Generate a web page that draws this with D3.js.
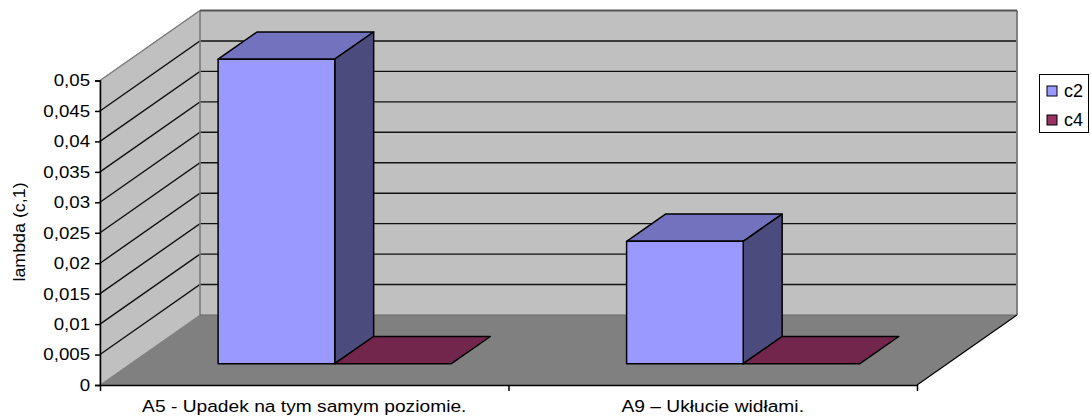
<!DOCTYPE html>
<html>
<head>
<meta charset="utf-8">
<script src="https://cdnjs.cloudflare.com/ajax/libs/d3/7.8.5/d3.min.js"></script>
<style>
html, body { margin: 0; padding: 0; background: #fff; }
svg { display: block; font-family: "Liberation Sans", Arial, sans-serif; }
</style>
</head>
<body>
<svg id="chart" width="1091" height="416"></svg>
<script>
const categories = ["A5 - Upadek na tym samym poziomie.", "A9 – Ukłucie widłami."];
const seriesNames = ["c2", "c4"];
const c2Values = [0.05, 0.0201];
const c4Values = [0, 0];
const seriesValues = [c2Values, c4Values];
const seriesColours = ["#9999ff", "#993366"];
const tickValues = [0, 0.005, 0.01, 0.015, 0.02, 0.025, 0.03, 0.035, 0.04, 0.045, 0.05];

const svg = d3.select("#chart");

const x0 = d3.scaleBand().domain(categories).range([100, 917]);
const x1 = d3.scaleBand().domain(seriesNames).range([87.7, 321]);
const y = d3.scaleLinear().domain([0, 0.05]).range([385, 80.5]);
const depthX = d3.scaleLinear().domain([0, 1]).range([0, 100]);
const depthY = d3.scaleLinear().domain([0, 1]).range([0, -70]);

// front plane point pushed back along the depth axis
function project(px, py, z) {
    return [px + depthX(z), py + depthY(z)];
}

const polyLine = d3.line();

function poly(points) {
    return polyLine(points) + "Z";
}

const xL = x0.range()[0], xR = x0.range()[1];
const yB = y(0), yT = y(0.05);

// walls and floor
svg.append("path")
    .attr("d", poly([project(xL, yB, 1), project(xR, yB, 1), project(xR, yT, 1), project(xL, yT, 1)]))
    .attr("fill", "#c0c0c0");
svg.append("path")
    .attr("d", poly([[xL, yB], [xL, yT], project(xL, yT, 1), project(xL, yB, 1)]))
    .attr("fill", "#c0c0c0")
    .attr("stroke", "#808080");
svg.append("path")
    .attr("d", poly([[xL, yB], [xR, yB], project(xR, yB, 1), project(xL, yB, 1)]))
    .attr("fill", "#808080");

// gridlines on side and back wall
const gridTicks = tickValues.slice(1);
svg.append("g")
    .selectAll("path")
    .data(gridTicks.slice(0, -1))
    .join("path")
    .attr("d", d => polyLine([[xL, y(d)], project(xL, y(d), 1), project(xR, y(d), 1)]))
    .attr("fill", "none")
    .attr("stroke", "#111")
    .attr("stroke-width", 1.4);

// wall outlines
svg.append("path")
    .attr("d", polyLine([project(xL, yB, 1), project(xL, yT, 1)]))
    .attr("fill", "none")
    .attr("stroke", "#808080")
    .attr("stroke-width", 1.5);
svg.append("path")
    .attr("d", polyLine([project(xR, yT, 1), project(xR, yB, 1)]))
    .attr("fill", "none")
    .attr("stroke", "#808080")
    .attr("stroke-width", 2);
svg.append("path")
    .attr("d", polyLine([project(xL, yT, 1), project(xR, yT, 1)]))
    .attr("fill", "none")
    .attr("stroke", "#555")
    .attr("stroke-width", 2);
svg.append("path")
    .attr("d", polyLine([[xL, yT], project(xL, yT, 1)]))
    .attr("fill", "none")
    .attr("stroke", "#808080")
    .attr("stroke-width", 1.5);
svg.append("path")
    .attr("d", polyLine([project(xL, yB, 1), project(xR, yB, 1)]))
    .attr("fill", "none")
    .attr("stroke", "#666")
    .attr("stroke-width", 1);
svg.append("path")
    .attr("d", polyLine([[xR, yB], project(xR, yB, 1)]))
    .attr("fill", "none")
    .attr("stroke", "#000")
    .attr("stroke-width", 1.2);

// bars
const zFront = 0.304, zBack = 0.693;
const bars = [];
categories.forEach((c, i) => {
    seriesNames.forEach((s, j) => {
        bars.push({ category: c, series: s, value: seriesValues[j][i], colour: seriesColours[j] });
    });
});

const barGroups = svg.append("g")
    .selectAll("g")
    .data(bars)
    .join("g")
    .attr("stroke", "#000")
    .attr("stroke-width", 1.5)
    .attr("stroke-linejoin", "round");

function barLeft(d) { return x0(d.category) + x1(d.series); }
function barRight(d) { return barLeft(d) + x1.bandwidth(); }

// top face
barGroups.append("path")
    .attr("d", d => poly([
        project(barLeft(d), y(d.value), zFront),
        project(barRight(d), y(d.value), zFront),
        project(barRight(d), y(d.value), zBack),
        project(barLeft(d), y(d.value), zBack)
    ]))
    .attr("fill", d => d3.rgb(d.colour).darker(0.83));

// side face
barGroups.filter(d => d.value > 0).append("path")
    .attr("d", d => poly([
        project(barRight(d), y(0), zFront),
        project(barRight(d), y(d.value), zFront),
        project(barRight(d), y(d.value), zBack),
        project(barRight(d), y(0), zBack)
    ]))
    .attr("fill", d => d3.rgb(d.colour).darker(2));

// front face
barGroups.filter(d => d.value > 0).append("path")
    .attr("d", d => poly([
        project(barLeft(d), y(0), zFront),
        project(barRight(d), y(0), zFront),
        project(barRight(d), y(d.value), zFront),
        project(barLeft(d), y(d.value), zFront)
    ]))
    .attr("fill", d => d.colour);

// y axis
const yAxis = d3.axisLeft(y)
    .tickValues(tickValues)
    .tickSize(5)
    .tickPadding(4)
    .tickFormat(d => String(+d.toFixed(3)).replace(".", ","));
const yG = svg.append("g")
    .attr("transform", "translate(" + xL + ",0)")
    .call(yAxis);
// the original picture is stretched sideways, so the text is too
yG.selectAll("text")
    .attr("font-size", 17)
    .attr("font-family", "Liberation Sans")
    .attr("fill", "#000")
    .attr("transform", "scale(1.1,1)");
yG.selectAll("line,path").attr("stroke", "#000").attr("stroke-width", 1.5);

// x axis, ticks on category borders, labels centred
const xBorder = d3.scaleLinear().domain([0, categories.length]).range([xL, xR]);
const xTicks = d3.axisBottom(xBorder)
    .tickValues(d3.range(categories.length + 1))
    .tickSize(6)
    .tickSizeOuter(0)
    .tickFormat("");
const xG = svg.append("g")
    .attr("transform", "translate(0," + yB + ")")
    .call(xTicks);
xG.selectAll("line,path").attr("stroke", "#000").attr("stroke-width", 1.5);

const xLabels = d3.axisBottom(x0).tickSize(0).tickPadding(15);
const xLabelG = svg.append("g")
    .attr("transform", "translate(0," + yB + ")")
    .call(xLabels);
xLabelG.select(".domain").remove();
xLabelG.selectAll("text")
    .attr("font-size", 17)
    .attr("font-family", "Liberation Sans")
    .attr("fill", "#000")
    .attr("transform", "scale(1.13,1)");

// y title
svg.append("text")
    .attr("transform", "translate(25,232) rotate(-90) scale(1.05,1)")
    .attr("text-anchor", "middle")
    .attr("font-size", 17)
    .attr("fill", "#000")
    .text("lambda (c,1)");

// legend
const legendX = d3.scaleLinear().domain([0, 1]).range([1039.5, 1088.5]);
const legendY = d3.scalePoint().domain(seriesNames).range([91, 120]);

svg.append("rect")
    .attr("x", legendX(0))
    .attr("y", 74.5)
    .attr("width", legendX(1) - legendX(0))
    .attr("height", 58)
    .attr("fill", "#fff")
    .attr("stroke", "#000");

const legendItems = svg.append("g")
    .selectAll("g")
    .data(seriesNames)
    .join("g")
    .attr("transform", d => "translate(" + legendX(0) + "," + legendY(d) + ")");

legendItems.append("rect")
    .attr("x", 7.5)
    .attr("y", -5)
    .attr("width", 10)
    .attr("height", 10)
    .attr("fill", (d, i) => seriesColours[i])
    .attr("stroke", "#000");

legendItems.append("text")
    .attr("x", 24.5)
    .attr("y", 6)
    .attr("font-size", 18)
    .attr("fill", "#000")
    .text(d => d);
</script>
</body>
</html>
